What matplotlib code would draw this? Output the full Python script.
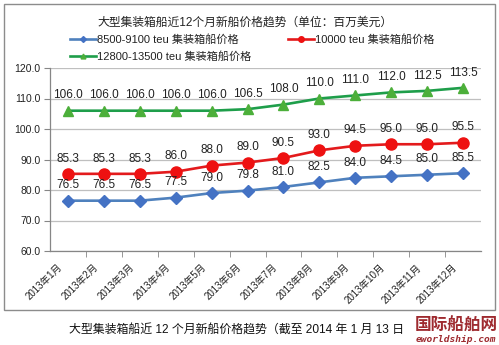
import matplotlib
matplotlib.use("Agg")
import matplotlib.pyplot as plt
import matplotlib.patches as patches
import matplotlib.transforms as mtransforms

plt.rcParams['font.family'] = ['Liberation Sans', 'Noto Sans CJK SC', 'DejaVu Sans']

months = ["2013年1月", "2013年2月", "2013年3月", "2013年4月", "2013年5月", "2013年6月",
          "2013年7月", "2013年8月", "2013年9月", "2013年10月", "2013年11月", "2013年12月"]
blue_vals = [76.5, 76.5, 76.5, 77.5, 79.0, 79.8, 81.0, 82.5, 84.0, 84.5, 85.0, 85.5]
red_vals = [85.3, 85.3, 85.3, 86.0, 88.0, 89.0, 90.5, 93.0, 94.5, 95.0, 95.0, 95.5]
green_vals = [106.0, 106.0, 106.0, 106.0, 106.0, 106.5, 108.0, 110.0, 111.0, 112.0, 112.5, 113.5]
series_names = ["8500-9100 teu 集装箱船价格", "10000 teu 集装箱船价格", "12800-13500 teu 集装箱船价格"]
yticks = [60, 70, 80, 90, 100, 110, 120]

W, H = 499, 345
fig = plt.figure(figsize=(W / 100, H / 100), dpi=100)

def fx(px):
    return px / W

def fy(py):
    return 1 - py / H

# outer border
fig.patches.append(patches.Rectangle((fx(4), fy(310)), fx(491), 306 / H, transform=fig.transFigure,
                                     fill=False, edgecolor='#8c8c8c', linewidth=1.0))

ax = fig.add_axes([fx(50), fy(251), fx(481) - fx(50), (251 - 68) / H])
x = list(range(len(months)))

l1, = ax.plot(x, blue_vals, color='#4F81BD', lw=1.9, marker='D', ms=6,
              markerfacecolor='#4472C4', markeredgecolor='#4472C4', label=series_names[0])
l2, = ax.plot(x, red_vals, color='#E31A1C', lw=1.9, marker='o', ms=8,
              markerfacecolor='#EE1111', markeredgecolor='#EE1111', label=series_names[1])
l3, = ax.plot(x, green_vals, color='#1E9E4A', lw=1.9, marker='^', ms=7,
              markerfacecolor='#4CAF3A', markeredgecolor='#4CAF3A', label=series_names[2])

for vals in (blue_vals, red_vals, green_vals):
    for xi, v in zip(x, vals):
        ax.annotate(f"{v:.1f}", (xi, v), xytext=(0, 11), textcoords='offset points',
                    ha='center', va='center', fontsize=8.5, color='#222222')

ax.set_xlim(-0.5, len(months) - 0.5)
ax.set_ylim(60, 120)
ax.set_yticks(yticks)
ax.set_yticklabels([f"{v:.1f}" for v in yticks], fontsize=7.5, color='#222222')
ax.set_xticks(x)
ax.set_xticks([i + 0.5 for i in x[:-1]], minor=True)
ax.set_xticklabels(months, rotation=45, ha='right', fontsize=7, color='#222222')
ax.tick_params(axis='x', which='major', length=0, pad=8)
ax.tick_params(axis='x', which='minor', length=4, color='#868686', direction='out')
ax.tick_params(axis='y', length=4, color='#868686', pad=3)
offset = mtransforms.ScaledTranslation(-4 / 100, 0, fig.dpi_scale_trans)
for lab in ax.get_xticklabels():
    lab.set_transform(lab.get_transform() + offset)

ax.grid(axis='y', color='#BFBFBF', lw=0.9)
ax.set_axisbelow(True)
for s in ('top', 'right'):
    ax.spines[s].set_visible(False)
for s in ('left', 'bottom'):
    ax.spines[s].set_color('#868686')
    ax.spines[s].set_linewidth(0.9)

fig.text(fx(245), fy(23), "大型集装箱船近12个月新船价格趋势（单位：百万美元）", ha='center', va='center',
         fontsize=8.5, color='#222222')

leg = ax.legend(handles=[l1, l3, l2], ncol=2, loc='upper left',
                bbox_to_anchor=(fx(70), fy(34)), bbox_transform=fig.transFigure,
                frameon=False, fontsize=8, handlelength=2.3, handletextpad=0.15,
                columnspacing=3.3, labelspacing=0.55, borderpad=0, borderaxespad=0,
                markerscale=0.5)
for t in leg.get_texts():
    t.set_color('#222222')

fig.text(fx(69), fy(331), "大型集装箱船近 12 个月新船价格趋势（截至 2014 年 1 月 13 日", ha='left', va='center',
         fontsize=8.6, color='#111111')
fig.text(fx(456), fy(326), "国际船舶网", ha='center', va='center', fontsize=12, fontweight='bold',
         color='#9e2a2f')
fig.text(fx(456), fy(339), "eworldship.com", ha='center', va='center', fontsize=6.8, style='italic',
         fontweight='bold', color='#9e2a2f', family='DejaVu Sans Mono')

fig.savefig("out.png", dpi=100)
